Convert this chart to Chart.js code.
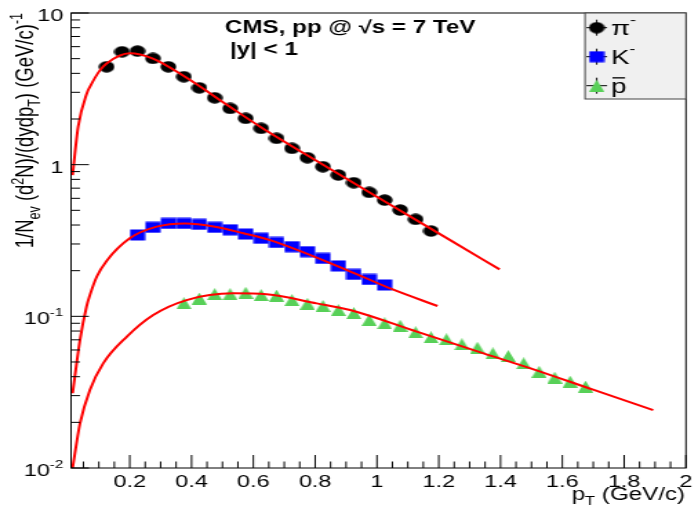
<!DOCTYPE html>
<html>
<head>
<meta charset="utf-8">
<title>CMS pp 7 TeV spectra</title>
<script src="https://cdn.jsdelivr.net/npm/chart.js@4.4.0/dist/chart.umd.min.js"></script>
<style>
  html, body { margin: 0; padding: 0; background: #fff; }
  /* the ROOT canvas is wider than tall: draw at 506 and stretch to 698 */
  #wrap { width: 506px; height: 517px; transform: scale(1.3794, 1); transform-origin: 0 0; }
  canvas { display: block; }
</style>
</head>
<body>
<div id="wrap"><canvas id="spectra" width="506" height="517"></canvas></div>
<script>
// ---------------------------------------- data ---------------------------------------- //
const pionPt = [0.125, 0.175, 0.225, 0.275, 0.325, 0.375, 0.425, 0.475, 0.525, 0.575, 0.625,
                0.675, 0.725, 0.775, 0.825, 0.875, 0.925, 0.975, 1.025, 1.075, 1.125, 1.175];
const pionYield = [4.42, 5.55, 5.61, 5.02, 4.42, 3.80, 3.21, 2.76, 2.35, 2.02, 1.735,
                   1.491, 1.281, 1.111, 0.969, 0.854, 0.760, 0.657, 0.584, 0.502, 0.436, 0.365];

const kaonPt = [0.225, 0.275, 0.325, 0.375, 0.425, 0.475, 0.525, 0.575, 0.625, 0.675,
                0.725, 0.775, 0.825, 0.875, 0.925, 0.975, 1.025];
const kaonYield = [0.344, 0.386, 0.410, 0.410, 0.404, 0.386, 0.372, 0.349, 0.327, 0.307,
                   0.288, 0.267, 0.241, 0.215, 0.189, 0.175, 0.161];

const protonPt = [0.375, 0.425, 0.475, 0.525, 0.575, 0.625, 0.675, 0.725, 0.775, 0.825,
                  0.875, 0.925, 0.975, 1.025, 1.075, 1.125, 1.175, 1.225, 1.275, 1.325,
                  1.375, 1.425, 1.475, 1.525, 1.575, 1.625, 1.675];
const protonYield = [0.122, 0.131, 0.140, 0.140, 0.143, 0.138, 0.137, 0.128, 0.121, 0.117,
                     0.110, 0.105, 0.0945, 0.0899, 0.0867, 0.0785, 0.0727, 0.0705, 0.0654, 0.0621,
                     0.0570, 0.0547, 0.0490, 0.0431, 0.0394, 0.0371, 0.0344];

// fit curves
const pionFitPt = [0.015, 0.033, 0.061, 0.071, 0.104, 0.125, 0.2, 0.273, 0.375, 0.524, 0.622, 0.827, 1.027, 1.237, 1.397];
const pionFitVal = [0.854, 1.78, 2.95, 3.26, 4.2, 4.65, 5.42, 5.02, 3.84, 2.41, 1.78, 0.994, 0.569, 0.318, 0.204];

const kaonFitPt = [0.015, 0.039, 0.06, 0.071, 0.093, 0.125, 0.2, 0.287, 0.379, 0.476, 0.568, 0.654, 0.903, 1.049, 1.196];
const kaonFitVal = [0.0311, 0.070, 0.1157, 0.138, 0.1824, 0.232, 0.327, 0.390, 0.410, 0.390, 0.353, 0.318, 0.202, 0.151, 0.117];

const protonFitPt = [0.015, 0.039, 0.071, 0.114, 0.19, 0.276, 0.384, 0.535, 0.643, 0.805, 0.913, 1.129, 1.345, 1.497, 1.702, 1.894];
const protonFitVal = [0.0100, 0.0197, 0.0327, 0.049, 0.0733, 0.102, 0.128, 0.1418, 0.1396, 0.1218, 0.110, 0.0792, 0.057, 0.0454, 0.0327, 0.0241];

// axes
const xTickValues = [0.2, 0.4, 0.6, 0.8, 1, 1.2, 1.4, 1.6, 1.8, 2];
const yDecades = [0.01, 0.1, 1, 10];
const yTickLabels = [['10', '-2'], ['10', '-1'], ['1', ''], ['10', '']];

const FONT = '"Liberation Sans", Arial, Helvetica, sans-serif';

// ---------------------------------------- markers ---------------------------------------- //
function makeMarker(kind, color) {
  var c = document.createElement('canvas');
  c.width = kind === 'triangle' ? 11 : 12;
  c.height = 12;
  var g = c.getContext('2d');
  g.fillStyle = color;
  if (kind === 'circle') {
    g.beginPath();
    g.arc(6, 6, 5.7, 0, Math.PI * 2);
    g.fill();
  } else if (kind === 'square') {
    g.fillRect(0.5, 0.5, 11, 11);
  } else {
    g.beginPath();
    g.moveTo(5.5, 0);
    g.lineTo(11, 12);
    g.lineTo(0, 12);
    g.closePath();
    g.fill();
  }
  return c;
}

var pionMarker = makeMarker('circle', '#000000');
var kaonMarker = makeMarker('square', '#0000ff');
var protonMarker = makeMarker('triangle', '#58d058');

function points(xs, ys) {
  return xs.map(function(x, i) { return { x: x, y: ys[i] }; });
}

function fitSet(xs, ys) {
  return {
    type: 'line',
    data: points(xs, ys),
    borderColor: '#ff0000',
    borderWidth: 2,
    pointRadius: 0,
    fill: false,
    cubicInterpolationMode: 'monotone',
    order: 0
  };
}

function markerSet(xs, ys, marker) {
  return {
    type: 'scatter',
    data: points(xs, ys),
    pointStyle: marker,
    pointRadius: 6,
    showLine: false,
    order: 1
  };
}

// ---------------------------------------- rich text ---------------------------------------- //
// parts: {t, size, dy, bold, bar}
function drawRich(ctx, x, y, parts, align) {
  var total = 0;
  parts.forEach(function(p) {
    ctx.font = (p.bold ? 'bold ' : '') + p.size + 'px ' + FONT;
    p.w = ctx.measureText(p.t).width;
    total += p.w;
  });
  var cx = align === 'right' ? x - total : x;
  ctx.textAlign = 'left';
  ctx.textBaseline = 'alphabetic';
  parts.forEach(function(p) {
    ctx.font = (p.bold ? 'bold ' : '') + p.size + 'px ' + FONT;
    ctx.fillText(p.t, cx, y + (p.dy || 0));
    if (p.bar) {
      ctx.fillRect(cx + 1, y - p.size * 0.8, p.w - 2, 1.3);
    }
    cx += p.w;
  });
}

// ---------------------------------------- frame, ticks, texts ---------------------------------------- //
const decorPlugin = {
  id: 'decor',
  afterDraw: function(chart) {
    var ctx = chart.ctx;
    var a = chart.chartArea;
    var xs = chart.scales.x;
    var ys = chart.scales.y;
    ctx.save();
    ctx.strokeStyle = '#000';
    ctx.fillStyle = '#000';
    ctx.lineWidth = 1;

    // frame
    ctx.strokeRect(a.left, a.top, a.right - a.left, a.bottom - a.top);

    // x ticks, drawn inwards
    ctx.beginPath();
    for (var k = 1; k <= 40; k++) {
      var v = k * 0.05;
      var px = xs.getPixelForValue(v);
      var len = (k % 4 === 0) ? 13 : 6.5;
      ctx.moveTo(px, a.bottom);
      ctx.lineTo(px, a.bottom - len);
    }
    // y ticks, drawn inwards
    yDecades.forEach(function(d, i) {
      var py = ys.getPixelForValue(d);
      ctx.moveTo(a.left, py);
      ctx.lineTo(a.left + 13, py);
      if (i < yDecades.length - 1) {
        for (var m = 2; m <= 9; m++) {
          var pm = ys.getPixelForValue(d * m);
          ctx.moveTo(a.left, pm);
          ctx.lineTo(a.left + 6.5, pm);
        }
      }
    });
    ctx.stroke();

    // y tick labels
    yDecades.forEach(function(d, i) {
      var py = ys.getPixelForValue(d) + 8;
      var lab = yTickLabels[i];
      var parts = [{ t: lab[0], size: 17 }];
      if (lab[1]) parts.push({ t: lab[1], size: 11, dy: -8 });
      drawRich(ctx, 45.9, py, parts, 'right');
    });

    // axis titles
    drawRich(ctx, 496.6, 500, [
      { t: 'p', size: 17.5 },
      { t: 'T', size: 12, dy: 5 },
      { t: ' (GeV/c)', size: 17.5 }
    ], 'right');

    ctx.save();
    ctx.translate(24, 13);
    ctx.rotate(-Math.PI / 2);
    drawRich(ctx, 0, 0, [
      { t: '1/N', size: 18.5 },
      { t: 'ev', size: 12.5, dy: 5 },
      { t: ' (d', size: 18.5 },
      { t: '2', size: 12.5, dy: -7 },
      { t: 'N)/(dydp', size: 18.5 },
      { t: 'T', size: 12.5, dy: 5 },
      { t: ') (GeV/c)', size: 18.5 },
      { t: '-1', size: 12.5, dy: -8 }
    ], 'right');
    ctx.restore();

    // labels
    drawRich(ctx, 163.1, 33, [{ t: 'CMS, pp @ \u221As = 7 TeV', size: 17.5, bold: true }], 'left');
    drawRich(ctx, 166.7, 55, [{ t: '|y| < 1', size: 17.5, bold: true }], 'left');

    // legend
    var lx = 424.1, ly = a.top, lw = a.right - lx, lh = 86;
    ctx.fillStyle = '#f0f0f0';
    ctx.fillRect(lx, ly, lw, lh);
    ctx.strokeStyle = '#444';
    ctx.strokeRect(lx, ly, lw, lh);

    var rows = [
      { marker: pionMarker, y: 27.7, parts: [{ t: '\u03C0', size: 20 }, { t: '-', size: 13, dy: -11 }] },
      { marker: kaonMarker, y: 56.7, parts: [{ t: 'K', size: 20 }, { t: '-', size: 13, dy: -11 }] },
      { marker: protonMarker, y: 85.7, parts: [{ t: 'p', size: 20, bar: true }] }
    ];
    rows.forEach(function(r) {
      var mx = 432.6;
      ctx.strokeStyle = '#000';
      ctx.beginPath();
      ctx.moveTo(mx, r.y - 8);
      ctx.lineTo(mx, r.y + 8);
      ctx.moveTo(mx - 7.5, r.y);
      ctx.lineTo(mx + 7.5, r.y);
      ctx.stroke();
      ctx.drawImage(r.marker, mx - r.marker.width / 2, r.y - r.marker.height / 2);
      ctx.fillStyle = '#000';
      drawRich(ctx, 443, r.y + 7.5, r.parts, 'left');
    });

    ctx.restore();
  }
};

// ---------------------------------------- chart ---------------------------------------- //
var spectraChart = new Chart(document.getElementById('spectra'), {
  type: 'scatter',
  data: {
    datasets: [
      fitSet(pionFitPt, pionFitVal),
      fitSet(kaonFitPt, kaonFitVal),
      fitSet(protonFitPt, protonFitVal),
      markerSet(pionPt, pionYield, pionMarker),
      markerSet(kaonPt, kaonYield, kaonMarker),
      markerSet(protonPt, protonYield, protonMarker)
    ]
  },
  options: {
    responsive: false,
    animation: false,
    layout: { padding: { left: 0, right: 8, top: 13, bottom: 0 } },
    plugins: {
      legend: { display: false },
      tooltip: { enabled: false }
    },
    scales: {
      x: {
        type: 'linear',
        min: 0.01,
        max: 2,
        grid: { display: false, drawTicks: false },
        border: { display: false },
        afterBuildTicks: function(scale) {
          scale.ticks = xTickValues.map(function(v) { return { value: v }; });
        },
        afterFit: function(scale) { scale.height = 49; },
        ticks: {
          autoSkip: false,
          maxRotation: 0,
          padding: 4,
          color: '#000',
          font: { family: FONT, size: 17 },
          callback: function(v) { return String(v); }
        }
      },
      y: {
        type: 'logarithmic',
        min: 0.01,
        max: 10,
        grid: { display: false, drawTicks: false },
        border: { display: false },
        ticks: { display: false },
        afterFit: function(scale) { scale.width = 51.5; }
      }
    }
  },
  plugins: [decorPlugin]
});
</script>
</body>
</html>
